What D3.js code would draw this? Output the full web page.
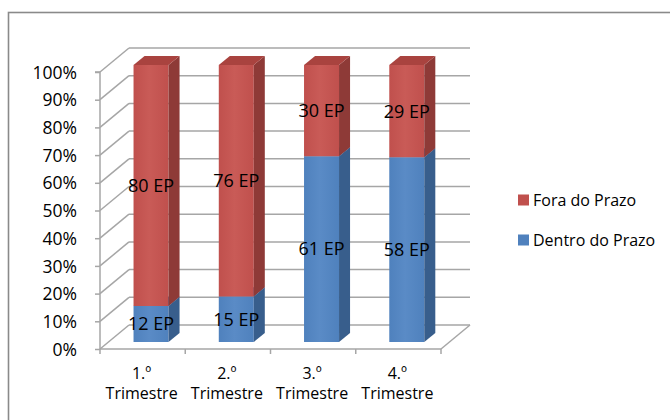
<!DOCTYPE html>
<html>
<head>
<meta charset="utf-8">
<script src="https://cdn.jsdelivr.net/npm/d3@7/dist/d3.min.js"></script>
<style>
  html, body { margin: 0; padding: 0; background: #fff; }
  svg { display: block; }
  text { font-family: "Open Sans", "DejaVu Sans", sans-serif; fill: #000; }
</style>
</head>
<body>
<svg id="chart" width="670" height="420"></svg>
<script>
// Quarterly processes (EP) delivered within / outside the deadline
const quarters = ["1.º|Trimestre", "2.º|Trimestre", "3.º|Trimestre", "4.º|Trimestre"];
const dentroDoPrazo = [12, 15, 61, 58];
const foraDoPrazo = [80, 76, 30, 29];
const yTicks = [0, 0.1, 0.2, 0.3, 0.4, 0.5, 0.6, 0.7, 0.8, 0.9, 1.0];
const seriesNames = ["Fora do Prazo", "Dentro do Prazo"];

const colors = {
  red:  { front: "#C0504D", light: "#C95B57", side: "#8E3A37", top: "#A9433F" },
  blue: { front: "#4F81BD", light: "#5A8BC6", side: "#385E8C", top: "#416EA5" }
};

const svg = d3.select("#chart");

// Frame around the chart area
svg.append("rect")
  .attr("x", 8.5).attr("y", 12.5)
  .attr("width", 700).attr("height", 500)
  .attr("fill", "none").attr("stroke", "#8a8a8a").attr("stroke-width", 1.6);

// 3D depth vector (front plane -> back wall)
const DX = 29, DY = -24;

const x = d3.scaleBand().domain(quarters).range([100, 441]).paddingInner(0).paddingOuter(0);
const y = d3.scaleLinear().domain([0, 1]).range([349, 72]);

const proj = (px, v, d) => [px + d * DX, y(v) + d * DY];

const defs = svg.append("defs");
function grad(id, c) {
  const g = defs.append("linearGradient").attr("id", id)
    .attr("x1", "0%").attr("x2", "100%").attr("y1", "0%").attr("y2", "0%");
  g.append("stop").attr("offset", "0%").attr("stop-color", c.front);
  g.append("stop").attr("offset", "45%").attr("stop-color", c.light);
  g.append("stop").attr("offset", "100%").attr("stop-color", c.front);
}
grad("gRed", colors.red);
grad("gBlue", colors.blue);

const grid = svg.append("g").attr("stroke", "#a6a6a6").attr("stroke-width", 1.5).attr("fill", "none");

// Back wall gridlines and left wall diagonals
yTicks.forEach(t => {
  const a = proj(x.range()[0], t, 0), b = proj(x.range()[0], t, 1), c = proj(x.range()[1], t, 1);
  grid.append("line").attr("x1", b[0]).attr("y1", b[1]).attr("x2", c[0]).attr("y2", c[1]);
  grid.append("line").attr("x1", a[0]).attr("y1", a[1]).attr("x2", b[0]).attr("y2", b[1]);
});
// Floor right edge
{
  const a = proj(x.range()[1], 0, 0), b = proj(x.range()[1], 0, 1);
  grid.append("line").attr("x1", a[0]).attr("y1", a[1]).attr("x2", b[0]).attr("y2", b[1]);
}

// Axes on the front plane
const yAxis = d3.axisLeft(y).tickValues(yTicks).tickSize(5).tickFormat(d3.format(".0%")).tickPadding(18);
const gy = svg.append("g").attr("transform", `translate(${x.range()[0]},0)`).call(yAxis);
gy.select(".domain").attr("stroke", "#a6a6a6").attr("stroke-width", 1.5).attr("d", `M-5,${y(1)}H0V${y(0)}`);
gy.selectAll(".tick line").attr("stroke", "#a6a6a6").attr("stroke-width", 1.5);
gy.selectAll(".tick text").attr("font-size", 17.5).attr("fill", "#000")
  .attr("font-family", "'Open Sans', sans-serif").attr("dy", "0.35em");

const xAxis = d3.axisBottom(x).tickSize(0).tickFormat(() => "");
const gx = svg.append("g").attr("transform", `translate(0,${y(0)})`).call(xAxis);
gx.select(".domain").attr("stroke", "#a6a6a6").attr("stroke-width", 1.5).attr("d", `M${x.range()[0]},0H${x.range()[1]}`);
// Category boundary ticks
const bounds = quarters.map(q => x(q)).concat([x.range()[1]]);
gx.selectAll("line.bt").data(bounds).join("line").attr("class", "bt")
  .attr("x1", d => d).attr("x2", d => d).attr("y1", 0).attr("y2", 5)
  .attr("stroke", "#a6a6a6").attr("stroke-width", 1.5);

// Category labels (two lines)
const cat = svg.append("g");
quarters.forEach(q => {
  const [l1, l2] = q.split("|");
  const cx = x(q) + x.bandwidth() / 2 - 1;
  cat.append("text").attr("x", cx).attr("y", 373).attr("dy", "0.35em")
    .attr("text-anchor", "middle").attr("font-size", 16).text(l1);
  cat.append("text").attr("x", cx).attr("y", 393).attr("dy", "0.35em")
    .attr("text-anchor", "middle").attr("font-size", 16).text(l2);
});

// Bars: 100% stacked, Dentro at the bottom, Fora on top
const D0 = 0.29, D1 = 0.67, BAR_W = 35;
const bars = svg.append("g");
const labels = svg.append("g");

function drawSegment(px, v0, v1, c, gradId) {
  const fl = proj(px, v0, D0), fr = proj(px + BAR_W, v0, D0);
  const tl = proj(px, v1, D0), tr = proj(px + BAR_W, v1, D0);
  const br = proj(px + BAR_W, v0, D1), trb = proj(px + BAR_W, v1, D1), tlb = proj(px, v1, D1);
  // front face
  bars.append("path").attr("d", `M${fl}L${fr}L${tr}L${tl}Z`).attr("fill", `url(#${gradId})`);
  // right side face
  bars.append("path").attr("d", `M${fr}L${br}L${trb}L${tr}Z`).attr("fill", c.side);
  // top face
  bars.append("path").attr("d", `M${tl}L${tr}L${trb}L${tlb}Z`).attr("fill", c.top);
}

quarters.forEach((q, i) => {
  const total = dentroDoPrazo[i] + foraDoPrazo[i];
  const pIn = dentroDoPrazo[i] / total;
  const px = x(q) + (x.bandwidth() - BAR_W) / 2;
  drawSegment(px, 0, pIn, colors.blue, "gBlue");
  drawSegment(px, pIn, 1, colors.red, "gRed");

  const cx = px + BAR_W / 2 + D0 * DX;
  labels.append("text").attr("x", cx).attr("y", (y(0) + y(pIn)) / 2 + D0 * DY)
    .attr("dy", "0.35em").attr("text-anchor", "middle").attr("font-size", 18)
    .text(`${dentroDoPrazo[i]} EP`);
  labels.append("text").attr("x", cx).attr("y", (y(pIn) + y(1)) / 2 + D0 * DY)
    .attr("dy", "0.35em").attr("text-anchor", "middle").attr("font-size", 18)
    .text(`${foraDoPrazo[i]} EP`);
});

// Legend
const legend = svg.append("g");
const legendColors = [colors.red.front, colors.blue.front];
seriesNames.forEach((name, i) => {
  const ly = 200 + i * 40;
  legend.append("rect").attr("x", 518).attr("y", ly - 5.5).attr("width", 11).attr("height", 11)
    .attr("fill", legendColors[i]);
  legend.append("text").attr("x", 533).attr("y", ly).attr("dy", "0.35em")
    .attr("font-size", 16).text(name);
});
</script>
</body>
</html>
